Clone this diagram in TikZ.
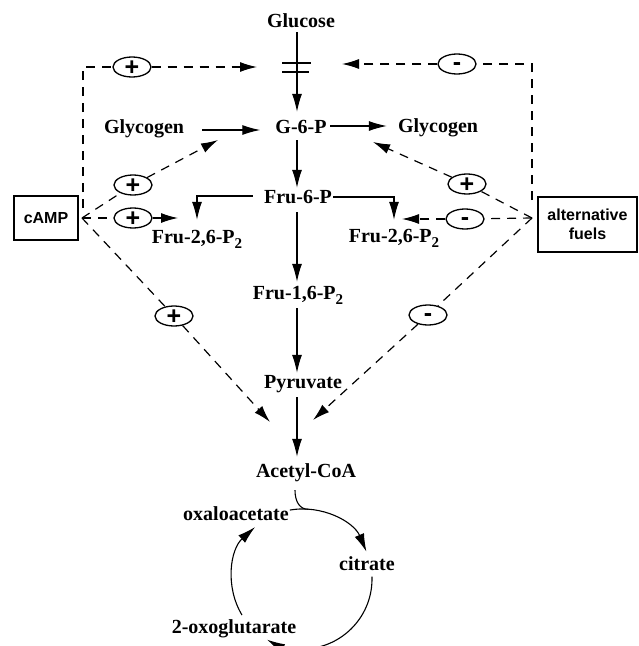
\documentclass[tikz,border=0pt]{standalone}
\usepackage{fontspec}
\setmainfont{Liberation Serif}
\setsansfont{Liberation Sans}
\usetikzlibrary{arrows.meta,shapes.geometric,calc}
\newcommand\subtwo{\raisebox{-5pt}{\fontsize{15}{15}\selectfont 2}}
\newcommand\plusmark{\raisebox{-0.35em}{+}}
\newcommand\minusmark{\raisebox{-0.26em}{-}}
\tikzset{
  lbl/.style={font=\fontsize{20}{24}\selectfont\bfseries, text height=14pt, text depth=4pt, inner sep=0pt, anchor=base},
  boxnode/.style={draw, line width=2pt, font=\sffamily\bfseries\fontsize{16}{18.5}\selectfont, align=center, inner sep=0pt},
  sign/.style={draw, ellipse, line width=1.3pt, minimum width=38pt, minimum height=20pt, inner sep=0pt, text height=5pt, text depth=5pt, font=\sffamily\bfseries\fontsize{25}{25}\selectfont},
  arr/.style={line width=1.1pt, -{Latex[length=18pt,width=10pt]}},
  dline/.style={line width=1.2pt, dash pattern=on 9pt off 7pt},
  darr/.style={dline, -{Latex[length=17pt,width=10pt]}},
  bar/.style={line width=1.3pt}
}
\begin{document}
\begin{tikzpicture}[x=1pt,y=-1pt]
\useasboundingbox (0,0) rectangle (639,646);

% metabolite labels
\node[lbl] (glucose) at (301,27) {Glucose};
\node[lbl] (g6p) at (301,133) {G-6-P};
\node[lbl] (glyL) at (144,133) {Glycogen};
\node[lbl] (glyR) at (438,132) {Glycogen};
\node[lbl] (fru6p) at (298,203) {Fru-6-P};
\node[lbl] (fru26L) at (197,243) {Fru-2,6-P\subtwo};
\node[lbl] (fru26R) at (394,242) {Fru-2,6-P\subtwo};
\node[lbl] (fru16) at (298,299) {Fru-1,6-P\subtwo};
\node[lbl] (pyr) at (303,388) {Pyruvate};
\node[lbl] (acoa) at (306,477) {Acetyl-CoA};
\node[lbl] (oxa) at (236,520) {oxaloacetate};
\node[lbl] (cit) at (367,570) {citrate};
\node[lbl] (oxg) at (234,633) {2-oxoglutarate};

% regulator boxes
\node[boxnode, minimum width=64pt, minimum height=44pt] (camp) at (46,218) {cAMP};
\node[boxnode, minimum width=99pt, minimum height=55pt] (alt) at (587.5,224.5) {alternative\\fuels};
\coordinate (P) at ([xshift=3pt]camp.east);
\coordinate (Q) at ([shift={(-5,-6.5)}]alt.west);

% signs
\node[sign] (s1) at (132,67) {\plusmark};
\node[sign] (s2) at (457,64) {\minusmark};
\node[sign] (s3) at (133,185) {\plusmark};
\node[sign] (s4) at (133,218) {\plusmark};
\node[sign] (s5) at (174,316) {\plusmark};
\node[sign] (s6) at (467,184) {\plusmark};
\node[sign] (s7) at (465,219) {\minusmark};
\node[sign] (s8) at (428,315) {\minusmark};

% targets of regulatory arrows
\coordinate (barL) at (257,67);
\coordinate (barR) at (342,64);
\coordinate (t1) at (218,140);
\coordinate (t2) at (178,218);
\coordinate (t3) at (270,422);
\coordinate (t4) at (373,142);
\coordinate (t5) at (402,219);
\coordinate (t6) at (313,420);

% main pathway
\coordinate (col) at (297,0);
\draw[arr, shorten <=1pt, shorten >=7pt] (glucose.south -| col) -- (g6p.north -| col);
\draw[bar] (282,63) -- (311,63) (282,72) -- (309,72);
\draw[arr, shorten <=3pt, shorten >=1pt] (g6p.south -| col) -- (fru6p.north -| col);
\draw[arr, shorten <=5pt, shorten >=3pt] (fru6p.south -| col) -- (fru16.north -| col);
\draw[arr, shorten <=5pt, shorten >=1pt] (fru16.south -| col) -- (pyr.north -| col);
\draw[arr, shorten <=5pt, shorten >=6pt] (pyr.south -| col) -- (acoa.north -| col);
\draw[arr, shorten <=18pt, shorten >=15pt] ([yshift=-2pt]glyL.east) -- ([yshift=-2pt]g6p.west);
\draw[arr, shorten <=3.5pt, shorten >=11pt] ([yshift=2pt]g6p.east) -- ([yshift=2pt]g6p.east -| glyR.west);
\draw[arr, shorten >=9pt] ([shift={(-11,-2)}]fru6p.west) -| (fru26L.north);
\draw[arr, shorten >=8pt] ([shift={(1,-1)}]fru6p.east) -| (fru26R.north);

% regulation from cAMP
\draw[dline] ([shift={(1,-10)}]P) |- (s1.west);
\draw[darr] (s1.east) -- (barL);
\draw[dline] (P) -- (s3);
\draw[darr] (s3) -- (t1);
\draw[dline] (P) -- (s4);
\draw[darr] (s4) -- (t2);
\draw[dline] (P) -- (s5);
\draw[darr] (s5) -- (t3);

% regulation from alternative fuels
\draw[dline] ([yshift=18pt]Q) |- (s2.east);
\draw[darr] (s2.west) -- (barR);
\draw[dline] (Q) -- (s6);
\draw[darr] (s6) -- (t4);
\draw[dline] (Q) -- (s7);
\draw[darr] (s7) -- (t5);
\draw[dline] (Q) -- (s8);
\draw[darr] (s8) -- (t6);

% citric acid cycle
\coordinate (tca) at (302,579);
\draw[line width=1.1pt] ([shift={(-11,9)}]acoa.south) .. controls +(0,12) and +(-8,0) .. ([shift={(-85:70)}]tca);
\draw[arr] ([shift={(-100:70)}]tca) arc[start angle=-100, end angle=-23, radius=70];
\draw[arr] ([shift={(-2:70)}]tca) arc[start angle=-2, end angle=120, radius=70];
\draw[arr] ([shift={(149:70)}]tca) arc[start angle=149, end angle=228, radius=70];
\end{tikzpicture}
\end{document}
